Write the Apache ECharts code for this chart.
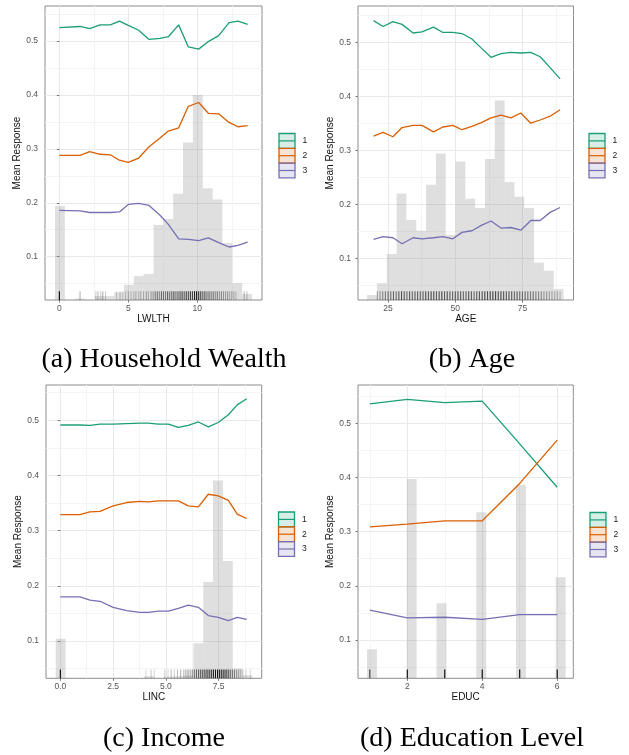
<!DOCTYPE html>
<html><head><meta charset="utf-8">
<script src="https://cdn.jsdelivr.net/npm/echarts@6/dist/echarts.min.js"></script>
<style>html,body{margin:0;padding:0;background:#fff;}#c{width:629px;height:755px;}</style>
</head><body><div id="c"></div>
<script>
// ---------------- DATA ----------------
const seriesNames = ['1', '2', '3'];
const yTicks = [0.1, 0.2, 0.3, 0.4, 0.5];
const yMinorTicks = [0.05, 0.15, 0.25, 0.35, 0.45, 0.55];

// (a) Household Wealth
const wealthX = [0, 1.5, 2.2, 2.95, 3.7, 4.35, 5.0, 5.75, 6.5, 7.3, 7.9, 8.65, 9.35, 10.1, 10.8, 11.55, 12.3, 12.95, 13.65];
const wealth1 = [0.525, 0.527, 0.523, 0.530, 0.530, 0.537, 0.529, 0.520, 0.503, 0.505, 0.508, 0.530, 0.489, 0.485, 0.499, 0.510, 0.534, 0.537, 0.531];
const wealth2 = [0.288, 0.288, 0.295, 0.290, 0.289, 0.279, 0.275, 0.283, 0.304, 0.320, 0.333, 0.339, 0.379, 0.386, 0.366, 0.365, 0.349, 0.341, 0.343];
const wealth3 = [0.186, 0.185, 0.182, 0.182, 0.182, 0.183, 0.197, 0.199, 0.195, 0.177, 0.160, 0.133, 0.132, 0.130, 0.135, 0.126, 0.118, 0.121, 0.127];
const wealthTicks = [0, 5, 10];
const wealthMinor = [2.5, 7.5, 12.5];
const wealthHist = [ // [binStart, binEnd, height]
  [-0.315, 0.399, 0.194], [1.113, 1.827, 0.022], [2.541, 3.255, 0.027], [3.255, 3.969, 0.027],
  [3.969, 4.683, 0.034], [4.683, 5.397, 0.048], [5.397, 6.111, 0.064], [6.111, 6.825, 0.068],
  [6.825, 7.539, 0.159], [7.539, 8.253, 0.170], [8.253, 8.967, 0.217], [8.967, 9.681, 0.312],
  [9.681, 10.395, 0.400], [10.395, 11.109, 0.227], [11.109, 11.823, 0.206], [11.823, 12.537, 0.125],
  [12.537, 13.251, 0.051], [13.251, 13.965, 0.031]
];
const wealthRug = [ // [x, darkness]
  [0, 1], [1.5, 0.3], [2.65, 0.2], [2.8, 0.25], [3.0, 0.2], [3.15, 0.3], [3.35, 0.2],
  [4.15, 0.15], [4.4, 0.2], [4.6, 0.15], [4.8, 0.2], [5.0, 0.25], [5.2, 0.2], [5.4, 0.2], [5.55, 0.25], [5.75, 0.2],
  [5.9, 0.25], [6.1, 0.25], [6.3, 0.3], [6.45, 0.25], [6.65, 0.3], [6.8, 0.35],
  [6.95, 0.45], [7.1, 0.5], [7.25, 0.4], [7.4, 0.55], [7.55, 0.5], [7.7, 0.45], [7.85, 0.6], [8.0, 0.5], [8.15, 0.55],
  [8.3, 0.65], [8.45, 0.5], [8.6, 0.6], [8.75, 0.65], [8.9, 0.7], [9.05, 0.6], [9.2, 0.7], [9.35, 0.65], [9.5, 0.75],
  [9.65, 0.7], [9.8, 0.85], [9.95, 0.9], [10.1, 0.8], [10.25, 0.7], [10.4, 0.6], [10.55, 0.65], [10.7, 0.5], [10.85, 0.55],
  [11.0, 0.45], [11.15, 0.5], [11.3, 0.4], [11.45, 0.45], [11.6, 0.35], [11.75, 0.4], [11.9, 0.35], [12.05, 0.3],
  [12.2, 0.35], [12.35, 0.25], [12.5, 0.3], [12.65, 0.25], [12.8, 0.2], [13.4, 0.25], [13.6, 0.2]
];

// (b) Age
const ageX = [19.6, 23.1, 26.8, 30.2, 34.3, 37.6, 41.9, 45.4, 49.1, 52.5, 56.2, 59.7, 63.3, 67.0, 70.7, 74.4, 78.1, 81.6, 85.3, 89.0];
const age1 = [0.540, 0.529, 0.538, 0.533, 0.517, 0.519, 0.528, 0.518, 0.518, 0.516, 0.506, 0.489, 0.472, 0.479, 0.481, 0.480, 0.481, 0.473, 0.453, 0.432];
const age2 = [0.326, 0.333, 0.325, 0.342, 0.346, 0.346, 0.334, 0.343, 0.346, 0.338, 0.344, 0.351, 0.360, 0.365, 0.360, 0.369, 0.350, 0.356, 0.363, 0.375];
const age3 = [0.135, 0.140, 0.138, 0.127, 0.138, 0.136, 0.138, 0.140, 0.136, 0.148, 0.151, 0.161, 0.169, 0.156, 0.157, 0.152, 0.170, 0.170, 0.185, 0.194];
const ageTicks = [25, 50, 75];
const ageMinor = [37.5, 62.5, 87.5];
const ageHist = [
  [17.2, 20.855, 0.032], [20.855, 24.51, 0.054], [24.51, 28.165, 0.108], [28.165, 31.82, 0.220],
  [31.82, 35.475, 0.171], [35.475, 39.13, 0.151], [39.13, 42.785, 0.236], [42.785, 46.44, 0.294],
  [46.44, 50.095, 0.143], [50.095, 53.75, 0.279], [53.75, 57.405, 0.210], [57.405, 61.06, 0.193],
  [61.06, 64.715, 0.284], [64.715, 68.37, 0.392], [68.37, 72.025, 0.241], [72.025, 75.68, 0.214],
  [75.68, 79.335, 0.193], [79.335, 82.99, 0.092], [82.99, 86.645, 0.077], [86.645, 90.3, 0.043]
];
const ageRug = [
  [21, 0.3], [22, 0.35], [23, 0.4], [24, 0.45], [25, 0.5], [26, 0.5], [27, 0.55], [28, 0.5], [29, 0.6], [30, 0.65],
  [31, 0.6], [32, 0.55], [33, 0.6], [34, 0.55], [35, 0.6], [36, 0.6], [37, 0.55], [38, 0.6], [39, 0.65], [40, 0.6],
  [41, 0.7], [42, 0.65], [43, 0.6], [44, 0.65], [45, 0.7], [46, 0.6], [47, 0.65], [48, 0.6], [49, 0.55], [50, 0.6],
  [51, 0.65], [52, 0.6], [53, 0.55], [54, 0.6], [55, 0.65], [56, 0.6], [57, 0.55], [58, 0.6], [59, 0.6], [60, 0.65],
  [61, 0.7], [62, 0.65], [63, 0.7], [64, 0.75], [65, 0.7], [66, 0.65], [67, 0.7], [68, 0.65], [69, 0.6], [70, 0.65],
  [71, 0.6], [72, 0.55], [73, 0.6], [74, 0.55], [75, 0.5], [76, 0.55], [77, 0.5], [78, 0.45], [79, 0.5], [80, 0.45],
  [81, 0.4], [82, 0.4], [83, 0.35], [84, 0.35], [85, 0.3], [86, 0.3], [87, 0.25], [88, 0.25], [89, 0.2]
];

// (c) Income
const incX = [0, 0.93, 1.4, 1.88, 2.5, 3.14, 3.77, 4.17, 4.64, 5.12, 5.59, 6.06, 6.54, 7.01, 7.48, 7.96, 8.38, 8.83];
const inc1 = [0.4915, 0.4915, 0.491, 0.493, 0.493, 0.494, 0.495, 0.495, 0.493, 0.493, 0.487, 0.491, 0.497, 0.488, 0.496, 0.510, 0.528, 0.539];
const inc2 = [0.329, 0.329, 0.334, 0.335, 0.345, 0.351, 0.353, 0.352, 0.354, 0.354, 0.354, 0.345, 0.343, 0.366, 0.363, 0.355, 0.330, 0.322];
const inc3 = [0.180, 0.180, 0.174, 0.172, 0.161, 0.155, 0.152, 0.152, 0.154, 0.154, 0.159, 0.165, 0.161, 0.146, 0.143, 0.137, 0.143, 0.139];
const incTicks = [0, 2.5, 5, 7.5];
const incMinor = [1.25, 3.75, 6.25, 8.75];
const incHist = [
  [-0.22, 0.246, 0.104], [3.974, 4.44, 0.036], [4.906, 5.372, 0.035], [5.372, 5.838, 0.036],
  [5.838, 6.304, 0.037], [6.304, 6.77, 0.096], [6.77, 7.236, 0.207], [7.236, 7.702, 0.391],
  [7.702, 8.168, 0.245], [8.168, 8.634, 0.050], [8.634, 9.1, 0.038]
];
const incRug = [
  [0, 1], [4.05, 0.15], [4.3, 0.2], [4.45, 0.15], [4.95, 0.2], [5.1, 0.15], [5.25, 0.25], [5.4, 0.2], [5.55, 0.25],
  [5.7, 0.3], [5.85, 0.3], [5.95, 0.35], [6.05, 0.4], [6.15, 0.35], [6.25, 0.45], [6.35, 0.5], [6.45, 0.55], [6.55, 0.6],
  [6.65, 0.65], [6.75, 0.7], [6.85, 0.75], [6.95, 0.8], [7.05, 0.8], [7.15, 0.85], [7.25, 0.9], [7.35, 0.9], [7.45, 0.95],
  [7.55, 0.95], [7.65, 0.9], [7.75, 0.9], [7.85, 0.85], [7.95, 0.75], [8.05, 0.6], [8.15, 0.5], [8.25, 0.45], [8.35, 0.35],
  [8.45, 0.3], [8.55, 0.25], [8.65, 0.2], [8.8, 0.15], [9.0, 0.15]
];

// (d) Education Level
const educX = [1, 2, 3, 4, 5, 6];
const educ1 = [0.536, 0.544, 0.538, 0.541, 0.462, 0.382];
const educ2 = [0.309, 0.314, 0.320, 0.320, 0.389, 0.469];
const educ3 = [0.155, 0.141, 0.142, 0.138, 0.147, 0.147];
const educTicks = [2, 4, 6];
const educMinor = [1, 3, 5];
const educHist = [
  [0.925, 1.19, 0.083], [1.985, 2.25, 0.397], [2.78, 3.045, 0.168],
  [3.84, 4.105, 0.336], [4.9, 5.165, 0.386], [5.96, 6.225, 0.216]
];
const educRug = [[1, 0.75], [2, 1], [3, 1], [4, 1], [5, 1], [6, 1]];

const captions = ['(a) Household Wealth', '(b) Age', '(c) Income', '(d) Education Level'];

// ---------------- LAYOUT / STYLE ----------------
const colors = ['#1B9E77', '#D95F02', '#7570B3'];
const keyFill = ['rgba(27,158,119,0.18)', 'rgba(217,95,2,0.18)', 'rgba(117,112,179,0.18)'];
const SANS = '"Liberation Sans", Arial, Helvetica, sans-serif';
const SERIF = '"Liberation Serif", "Times New Roman", serif';

const panels = [
  { grid: {left: 45, top: 6, width: 217, height: 294}, xMin: -1.04, xMax: 14.69, yMin: 0.0197, yMax: 0.565,
    x: wealthX, ys: [wealth1, wealth2, wealth3], hist: wealthHist, rug: wealthRug, xName: 'LWLTH',
    xTicks: wealthTicks, xMinor: wealthMinor, fmt: v => String(v),
    legend: [279, 133.5], caption: [164, 360] },
  { grid: {left: 358, top: 6, width: 215.5, height: 294}, xMin: 13.8, xMax: 94.0, yMin: 0.0228, yMax: 0.567,
    x: ageX, ys: [age1, age2, age3], hist: ageHist, rug: ageRug, xName: 'AGE',
    xTicks: ageTicks, xMinor: ageMinor, fmt: v => String(v),
    legend: [589, 133.5], caption: [472, 360] },
  { grid: {left: 46, top: 385, width: 215.7, height: 293.3}, xMin: -0.68, xMax: 9.54, yMin: 0.0324, yMax: 0.564,
    x: incX, ys: [inc1, inc2, inc3], hist: incHist, rug: incRug, xName: 'LINC',
    xTicks: incTicks, xMinor: incMinor, fmt: v => v.toFixed(1),
    legend: [278.5, 512], caption: [164, 739] },
  { grid: {left: 358, top: 385, width: 215.3, height: 293.3}, xMin: 0.685, xMax: 6.43, yMin: 0.0293, yMax: 0.5707,
    x: educX, ys: [educ1, educ2, educ3], hist: educHist, rug: educRug, xName: 'EDUC',
    xTicks: educTicks, xMinor: educMinor, fmt: v => String(v),
    legend: [590, 512.5], caption: [472, 739] }
];

function histItem(params, api) {
  const cs = params.coordSys;
  const a = api.coord([api.value(0), api.value(2)]);
  const b = api.coord([api.value(1), api.value(2)]);
  const bottom = cs.y + cs.height;
  return { type: 'rect', shape: { x: a[0], y: a[1], width: b[0] - a[0], height: bottom - a[1] },
           style: { fill: 'rgba(150,150,150,0.3)' } };
}
function rugItem(params, api) {
  const cs = params.coordSys;
  const p = api.coord([api.value(0), api.value(1)]);
  const bottom = cs.y + cs.height;
  const len = cs.height * 0.03;
  return { type: 'line', shape: { x1: p[0], y1: bottom, x2: p[0], y2: bottom - len },
           style: { stroke: 'rgba(0,0,0,' + api.value(1) + ')', lineWidth: 1.1 } };
}

const grid = [], xAxis = [], yAxis = [], series = [], graphic = [];
panels.forEach((p, g) => {
  grid.push(Object.assign({ show: true, borderColor: '#8c8c8c', borderWidth: 1, backgroundColor: 'transparent', containLabel: false }, p.grid));
  xAxis.push({
    type: 'value', gridIndex: g, min: p.xMin, max: p.xMax,
    axisLine: { show: false },
    axisTick: { show: true, length: 2.5, lineStyle: { color: '#777', width: 1 }, customValues: p.xTicks },
    axisLabel: { customValues: p.xTicks, formatter: p.fmt, fontSize: 8.5, color: '#555', margin: 4, fontFamily: SANS },
    splitLine: { show: true, lineStyle: { color: '#e9e9e9', width: 1 } },
    name: p.xName, nameLocation: 'middle', nameGap: 13,
    nameTextStyle: { fontSize: 10, color: '#111', fontFamily: SANS }
  });
  xAxis.push({
    type: 'value', gridIndex: g, min: p.xMin, max: p.xMax, position: 'bottom',
    axisLine: { show: false }, axisTick: { show: false, customValues: p.xMinor },
    axisLabel: { show: false, customValues: p.xMinor },
    splitLine: { show: true, lineStyle: { color: '#f4f4f4', width: 1 } }
  });
  yAxis.push({
    type: 'value', gridIndex: g, min: p.yMin, max: p.yMax,
    axisLine: { show: false },
    axisTick: { show: true, length: 2.5, lineStyle: { color: '#777', width: 1 }, customValues: yTicks },
    axisLabel: { customValues: yTicks, formatter: v => v.toFixed(1), fontSize: 8.5, color: '#555', margin: 7, fontFamily: SANS },
    splitLine: { show: true, lineStyle: { color: '#e9e9e9', width: 1 } },
    name: 'Mean Response', nameLocation: 'middle', nameGap: 16,
    nameTextStyle: { fontSize: 10, color: '#111', fontFamily: SANS }
  });
  yAxis.push({
    type: 'value', gridIndex: g, min: p.yMin, max: p.yMax, position: 'left',
    axisLine: { show: false }, axisTick: { show: false, customValues: yMinorTicks },
    axisLabel: { show: false, customValues: yMinorTicks },
    splitLine: { show: true, lineStyle: { color: '#f4f4f4', width: 1 } }
  });
  const xi = 2 * g, yi = 2 * g;
  series.push({ type: 'custom', xAxisIndex: xi, yAxisIndex: yi, renderItem: histItem,
    encode: { x: [0, 1], y: 2 }, data: p.hist, clip: true, silent: true, z: 1 });
  series.push({ type: 'custom', xAxisIndex: xi, yAxisIndex: yi, renderItem: rugItem,
    encode: { x: 0 }, data: p.rug, clip: false, silent: true, z: 2 });
  p.ys.forEach((ys, k) => {
    series.push({ type: 'line', name: seriesNames[k], xAxisIndex: xi, yAxisIndex: yi,
      data: p.x.map((xv, i) => [xv, ys[i]]), showSymbol: false, symbol: 'none',
      lineStyle: { color: colors[k], width: 1.3 }, itemStyle: { color: colors[k] }, z: 3, silent: true });
  });
  // legend keys
  const [lx, ly] = p.legend;
  const kw = 16, kh = 14.8;
  seriesNames.forEach((nm, k) => {
    const top = ly + k * kh;
    graphic.push({ type: 'rect', shape: { x: lx, y: top, width: kw, height: kh },
      style: { fill: keyFill[k], stroke: colors[k], lineWidth: 1.3 }, z: 10 });
    graphic.push({ type: 'line', shape: { x1: lx, y1: top + kh / 2, x2: lx + kw, y2: top + kh / 2 },
      style: { stroke: colors[k], lineWidth: 1.2 }, z: 11 });
    graphic.push({ type: 'text', x: lx + 23.5, y: top + kh / 2,
      style: { text: nm, fontSize: 8.5, fill: '#222', fontFamily: SANS, verticalAlign: 'middle', align: 'left' }, z: 11 });
  });
  graphic.push({ type: 'text', x: p.caption[0], y: p.caption[1],
    style: { text: captions[g], fontSize: 28, fill: '#000', fontFamily: SERIF, align: 'center', verticalAlign: 'middle' } });
});

const chart = echarts.init(document.getElementById('c'), null, { renderer: 'canvas' });
chart.setOption({ animation: false, backgroundColor: '#fff', grid, xAxis, yAxis, series, graphic });
</script>
</body></html>
